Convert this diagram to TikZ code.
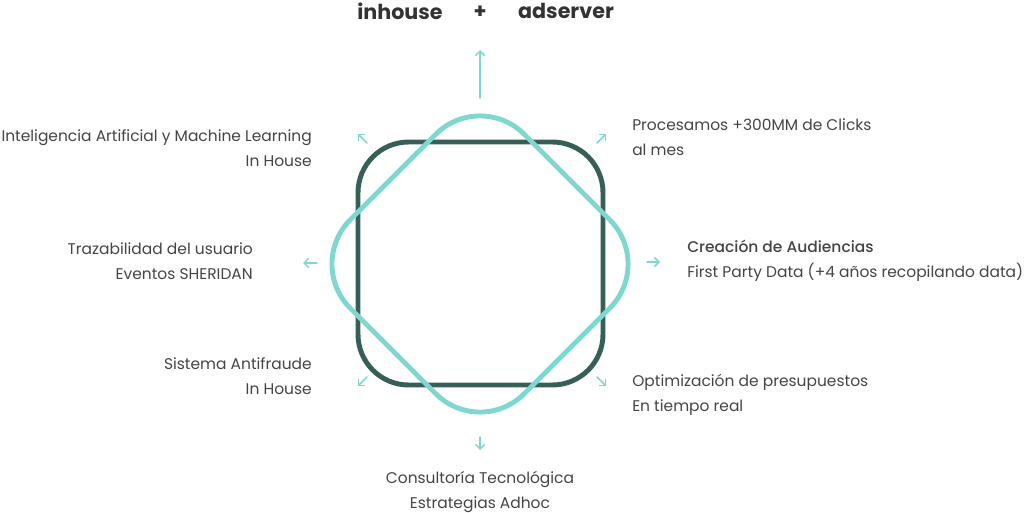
\documentclass[tikz,border=0pt]{standalone}
\usepackage{fontspec}
\setmainfont{Poppins}
\newfontfamily\medfont{Poppins Medium}
\usepackage{xcolor}
\usetikzlibrary{arrows.meta}
\definecolor{Teal}{HTML}{7FD8CF}
\definecolor{DarkGreen}{HTML}{375E57}
\definecolor{TextGray}{HTML}{444444}
\definecolor{TitleGray}{HTML}{333333}
\tikzset{
  info/.style={text=TextGray, font=\fontsize{11.6}{18.75}\selectfont, inner sep=0pt},
  titletext/.style={text=TitleGray, font=\fontsize{15.5}{18}\selectfont\bfseries, inner sep=0pt},
  outarrow/.style={draw=Teal, line width=1.1pt, line cap=round, -{Straight Barb[length=3.5pt,width=7pt]}},
}

\begin{document}
\begin{tikzpicture}[x=0.75pt,y=-0.75pt]
\useasboundingbox (0,0) rectangle (1024,513);
% title
\node[titletext] (inhouse) at (400,11) {inhouse};
\node[titletext] (plus) at (480,12) {+};
\node[titletext] (adserver) at (566,11) {adserver};
% hub
\draw[color=DarkGreen,line width=3.7pt,rounded corners=38pt] (358,142) rectangle (603,385);
\draw[color=Teal,line width=3.7pt,rounded corners=47pt] (480,90) -- (654,264) -- (480,438) -- (306,264) -- cycle;
% arrow ends
\coordinate (upA) at (480,98);  \coordinate (upB) at (480,50);
\coordinate (dnA) at (480,437); \coordinate (dnB) at (480,450);
\coordinate (lfA) at (317,263); \coordinate (lfB) at (303,263);
\coordinate (rtA) at (647,262); \coordinate (rtB) at (660,262);
\coordinate (ulA) at (367,143); \coordinate (ulB) at (358,134);
\coordinate (urA) at (597,143); \coordinate (urB) at (606,134);
\coordinate (llA) at (367,377); \coordinate (llB) at (358,386);
\coordinate (lrA) at (597,377); \coordinate (lrB) at (606,386);
\foreach \a in {up,dn,lf,rt,ul,ur,ll,lr}
  \draw[outarrow] (\a A) -- (\a B);
% texts
\node[info,align=right,anchor=east] (ia) at (312,148)
{Inteligencia Artificial y Machine Learning\\In House};
\node[info,align=left,anchor=west] (clicks) at (632,137)
{Procesamos +300MM de Clicks\\al mes};
\node[info,align=left,anchor=west] (audiencias) at (687,261)
{{\medfont Creación de Audiencias}\\First Party Data (+4 años recopilando data)};
\node[info,align=left,anchor=west] (presupuestos) at (632,395)
{Optimización de presupuestos\\En tiempo real};
\node[info,align=center] (consultoria) at (480,492)
{Consultoría Tecnológica\\Estrategias Adhoc};
\node[info,align=right,anchor=east] (antifraude) at (312,376)
{Sistema Antifraude\\In House};
\node[info,align=right,anchor=east] (trazabilidad) at (253,261)
{Trazabilidad del usuario\\Eventos SHERIDAN};
\end{tikzpicture}
\end{document}
